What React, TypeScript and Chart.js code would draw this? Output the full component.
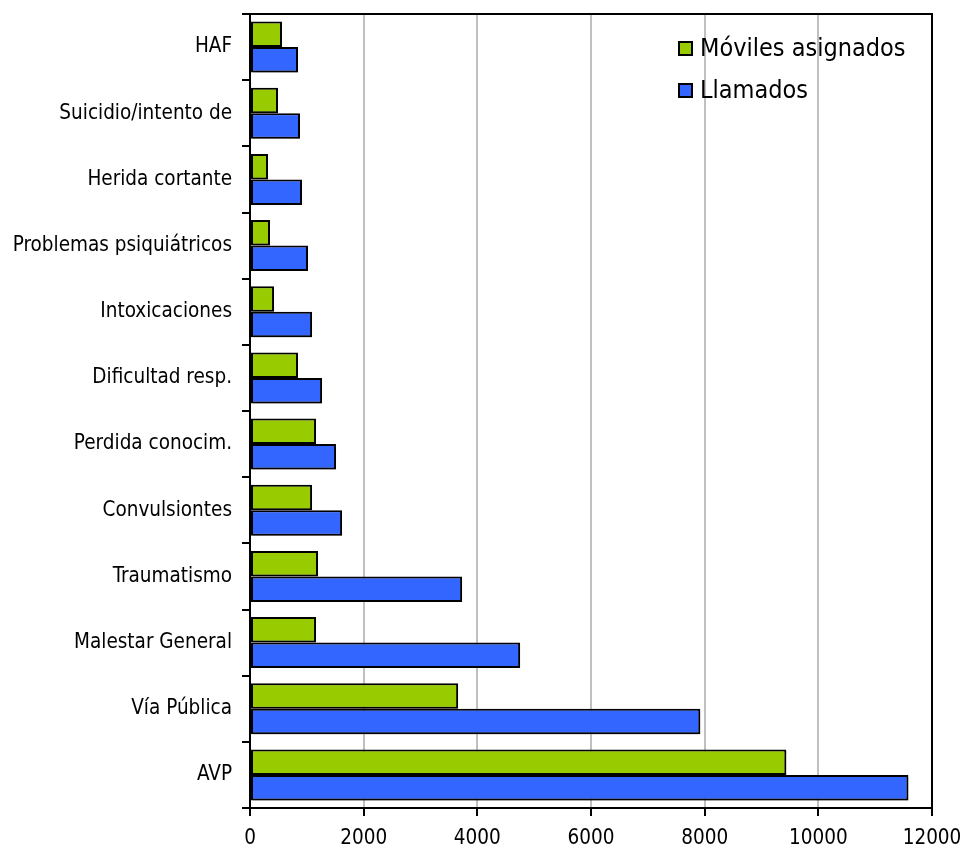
import React, { useEffect, useRef } from "react";
import { Chart, registerables } from "chart.js";

Chart.register(...registerables);

const categories = [
  "HAF",
  "Suicidio/intento de",
  "Herida cortante",
  "Problemas psiquiátricos",
  "Intoxicaciones",
  "Dificultad resp.",
  "Perdida conocim.",
  "Convulsiontes",
  "Traumatismo",
  "Malestar General",
  "Vía Pública",
  "AVP",
];

const moviles = [563, 493, 317, 352, 423, 845, 1162, 1092, 1197, 1162, 3662, 9437];
const llamados = [845, 880, 915, 1021, 1092, 1268, 1514, 1620, 3732, 4753, 7923, 11585];

const seriesNames = ["Móviles asignados", "Llamados"];
const seriesColors = ["#99CC00", "#3366FF"];

const FONT = "'DejaVu Sans Condensed', 'DejaVu Sans', sans-serif";

export default function App() {
  const ref = useRef<HTMLCanvasElement | null>(null);

  useEffect(() => {
    if (!ref.current) return;

    const shadowPlugin = {
      id: "shadow",
      beforeDatasetsDraw(chart: any) {
        const ctx = chart.ctx;
        ctx.save();
        ctx.shadowColor = "rgba(0,0,0,0.3)";
        ctx.shadowOffsetX = 2;
        ctx.shadowOffsetY = 2;
        ctx.shadowBlur = 1;
      },
      afterDatasetsDraw(chart: any) {
        chart.ctx.restore();
      },
    };

    const framePlugin = {
      id: "frame",
      afterDraw(chart: any) {
        const { ctx, chartArea } = chart;
        ctx.save();
        ctx.strokeStyle = "#000";
        ctx.lineWidth = 2;
        ctx.strokeRect(chartArea.left, chartArea.top, chartArea.right - chartArea.left, chartArea.bottom - chartArea.top);
        // legend
        ctx.font = `25px ${FONT}`;
        ctx.textBaseline = "middle";
        ctx.textAlign = "left";
        const lx = chartArea.right - 253;
        const ys = [chartArea.top + 35, chartArea.top + 77];
        seriesNames.forEach((n, i) => {
          ctx.fillStyle = seriesColors[i];
          ctx.fillRect(lx, ys[i] - 7, 13, 13);
          ctx.lineWidth = 2;
          ctx.strokeStyle = "#000";
          ctx.strokeRect(lx, ys[i] - 7, 13, 13);
          ctx.fillStyle = "#000";
          ctx.fillText(n, lx + 21, ys[i]);
        });
        ctx.restore();
      },
    };

    const chart = new Chart(ref.current, {
      type: "bar",
      data: {
        labels: categories,
        datasets: [
          {
            label: seriesNames[0],
            data: moviles,
            backgroundColor: seriesColors[0],
            borderColor: "#000",
            borderWidth: 2,
            borderSkipped: false,
            categoryPercentage: 0.77,
            barPercentage: 1,
          },
          {
            label: seriesNames[1],
            data: llamados,
            backgroundColor: seriesColors[1],
            borderColor: "#000",
            borderWidth: 2,
            borderSkipped: false,
            categoryPercentage: 0.77,
            barPercentage: 1,
          },
        ],
      },
      options: {
        indexAxis: "y",
        animation: false,
        responsive: false,
        devicePixelRatio: 1,
        layout: { padding: { top: 14, right: 31, left: 0, bottom: 0 } },
        plugins: { legend: { display: false }, tooltip: { enabled: false } },
        scales: {
          x: {
            min: 0,
            max: 12000,
            ticks: {
              stepSize: 2000,
              color: "#000",
              font: { family: FONT, size: 20.5 },
              padding: 10,
              callback: (v: any) => String(v),
            },
            grid: { color: "#c0c0c0", lineWidth: 2, tickColor: "#000", tickLength: 8 },
            border: { color: "#000", width: 2 },
            afterFit(s: any) {
              s.height = 45;
              s.paddingLeft = 0;
              s.paddingRight = 0;
            },
          },
          y: {
            ticks: { color: "#000", font: { family: FONT, size: 20.5 }, padding: 10 },
            grid: { offset: true, drawOnChartArea: false, tickColor: "#000", tickLength: 8, lineWidth: 2 },
            border: { color: "#000", width: 2 },
            afterFit(s: any) {
              s.width = 250;
              s.paddingTop = 0;
              s.paddingBottom = 0;
            },
          },
        },
      },
      plugins: [shadowPlugin, framePlugin],
    } as any);

    return () => chart.destroy();
  }, []);

  return (
    <div style={{ position: "absolute", left: 0, top: 0, width: 963, height: 853, background: "#fff" }}>
      <canvas ref={ref} width={963} height={853} style={{ width: 963, height: 853 }} />
    </div>
  );
}
